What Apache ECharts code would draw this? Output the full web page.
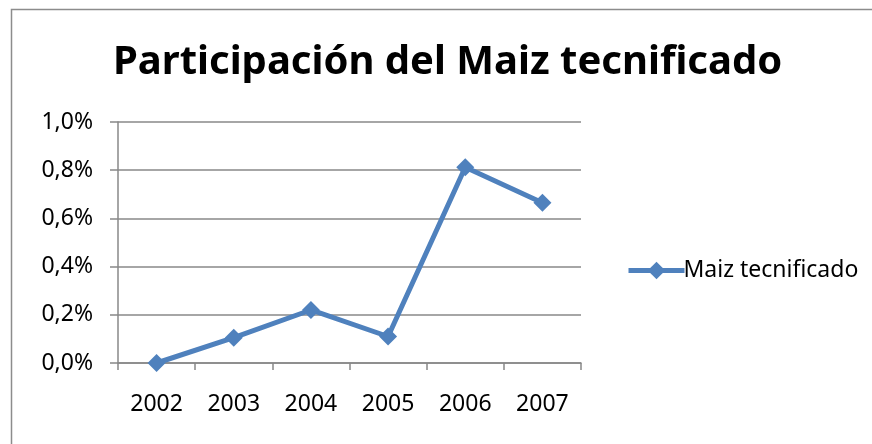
<!DOCTYPE html>
<html>
<head>
<meta charset="utf-8">
<script src="https://cdn.jsdelivr.net/npm/echarts@6/dist/echarts.min.js"></script>
<style>
  html, body { margin: 0; padding: 0; background: #fff; }
  #chart { width: 872px; height: 444px; }
</style>
</head>
<body>
<div id="chart"></div>
<script>
const years = ['2002', '2003', '2004', '2005', '2006', '2007'];
const maizTecnificado = [0.0, 0.105, 0.22, 0.11, 0.812, 0.665];
const seriesName = 'Maiz tecnificado';
const titleText = 'Participación del Maiz tecnificado';

const font = '"Noto Sans", "Open Sans", sans-serif';
const blue = '#4F81BD';

const chart = echarts.init(document.getElementById('chart'));
chart.setOption({
    backgroundColor: '#fff',
    animation: false,
    title: {
        text: titleText,
        left: 108,
        top: 38,
        textStyle: { fontFamily: font, fontSize: 40, fontWeight: 'bold', color: '#000' }
    },
    graphic: [{
        type: 'rect',
        shape: { x: 11.5, y: 9.5, width: 900, height: 500 },
        style: { fill: 'none', stroke: '#8c8c8c', lineWidth: 1.5 },
        silent: true
    }],
    legend: {
        data: [seriesName],
        left: 621,
        top: 254,
        itemWidth: 56,
        itemHeight: 22,
        itemGap: 4,
        lineStyle: { width: 5 },
        textStyle: { fontFamily: font, fontSize: 23, color: '#000', padding: [0, 0, 0, -6] }
    },
    grid: { left: 118, right: 291, top: 122, bottom: 81 },
    xAxis: {
        type: 'category',
        data: years,
        boundaryGap: true,
        axisLine: { lineStyle: { color: '#888', width: 1.5 } },
        axisTick: { show: true, length: 7, lineStyle: { color: '#888', width: 1.5 } },
        axisLabel: { fontFamily: font, fontSize: 23, color: '#000', margin: 30 }
    },
    yAxis: {
        type: 'value',
        min: 0,
        max: 1,
        interval: 0.2,
        axisLine: { show: true, lineStyle: { color: '#888', width: 1.5 } },
        axisTick: { show: true, length: 8, lineStyle: { color: '#888', width: 1.5 } },
        splitLine: { lineStyle: { color: '#888', width: 1.5 } },
        axisLabel: {
            fontFamily: font, fontSize: 23, color: '#000', margin: 25,
            formatter: v => v.toFixed(1).replace('.', ',') + '%'
        }
    },
    series: [{
        name: seriesName,
        type: 'line',
        data: maizTecnificado,
        symbol: 'diamond',
        symbolSize: 18,
        lineStyle: { color: blue, width: 5 },
        itemStyle: { color: blue }
    }]
});
</script>
</body>
</html>
